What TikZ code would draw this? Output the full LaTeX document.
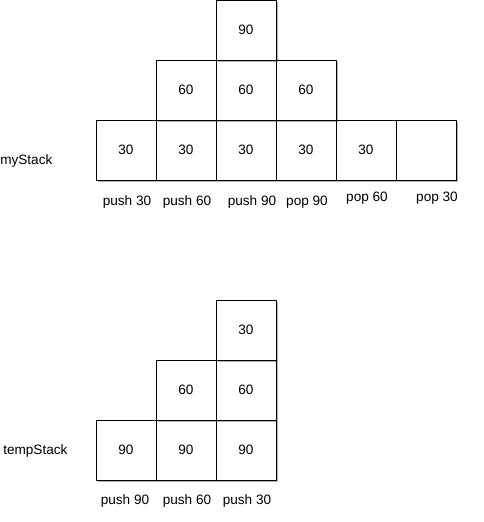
\documentclass[tikz,border=0pt]{standalone}
\usepackage{fontspec}
\setmainfont{Liberation Sans}
\usetikzlibrary{shadows}
\begin{document}
\begin{tikzpicture}[x=0.75pt, y=-0.75pt, font=\fontsize{10.2}{12}\selectfont, line join=round,
	cell/.style={draw, line width=0.75pt, fill=white, minimum size=45pt, inner sep=0pt,
		drop shadow={shadow xshift=1.2pt, shadow yshift=-1.2pt, fill=black, opacity=0.3}},
	lbl/.style={inner sep=0pt}]
	\useasboundingbox (0,0) rectangle (483,522);
	\def \w{60} %cạnh ô
	% myStack
	\foreach \i/\v in {1/30,2/30,3/30,4/30,5/30,6/{}}
		\node[cell] (m1\i) at (66+\w*\i,150) {\v};
	\foreach \i in {2,3,4}
		\node[cell] (m2\i) at (66+\w*\i,90) {60};
	\node[cell] (m33) at (246,30) {90};
	\node[lbl, anchor=west] (my) at (0,161) {myStack};
	\node[lbl] (p1) at (127,202) {push 30};
	\node[lbl] (p2) at (187,202) {push 60};
	\node[lbl] (p3) at (252,202) {push 90};
	\node[lbl] (p4) at (307,202) {pop 90};
	\node[lbl] (p5) at (367,198) {pop 60};
	\node[lbl] (p6) at (437,198) {pop 30};
	% tempStack
	\foreach \i in {1,2,3}
		\node[cell] (t1\i) at (66+\w*\i,450) {90};
	\foreach \i in {2,3}
		\node[cell] (t2\i) at (66+\w*\i,390) {60};
	\node[cell] (t33) at (246,330) {30};
	\node[lbl, anchor=west] (temp) at (3,451) {tempStack};
	\node[lbl] (q1) at (125,501) {push 90};
	\node[lbl] (q2) at (187,501) {push 60};
	\node[lbl] (q3) at (247,501) {push 30};
\end{tikzpicture}
\end{document}
